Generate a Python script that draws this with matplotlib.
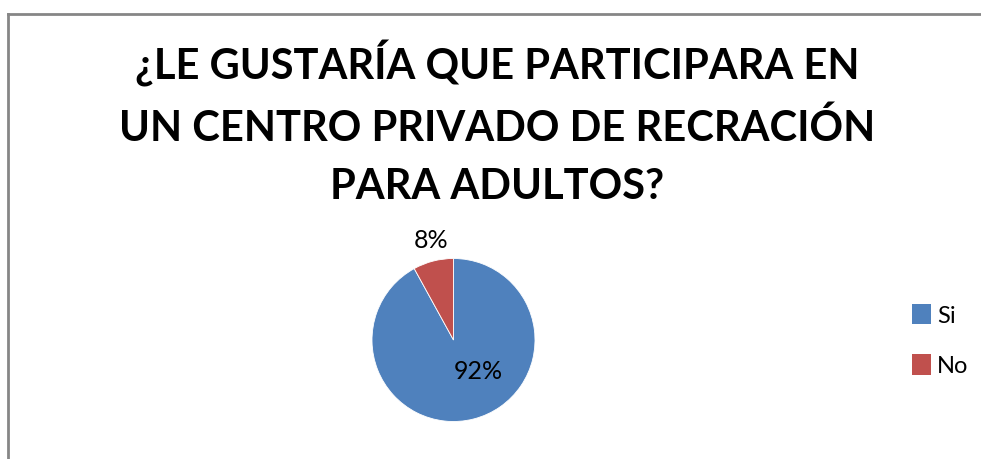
import matplotlib.pyplot as plt
from matplotlib.lines import Line2D
from matplotlib.patches import Patch

# ===============================
# DATA
# ===============================
TITLE = "¿LE GUSTARÍA QUE PARTICIPARA EN\nUN CENTRO PRIVADO DE RECRACIÓN\nPARA ADULTOS?"
labels = ["Si", "No"]
values = [92, 8]
colors = ["#4F81BD", "#C0504D"]

W, H = 981, 460
plt.rcParams["font.family"] = ["Lato", "DejaVu Sans"]

fig = plt.figure(figsize=(W / 100, H / 100), dpi=100)

# chart border (gray frame, cut off at right and bottom)
border = "#868686"
fig.add_artist(Line2D([8 / W, 1.0], [1 - 14.5 / H, 1 - 14.5 / H], color=border, lw=2))
fig.add_artist(Line2D([8 / W, 8 / W], [0.0, 1 - 14.5 / H], color=border, lw=2))

fig.text(497 / W, 1 - 123 / H, TITLE, ha="center", va="center",
         fontsize=30, fontweight="bold", linespacing=1.66)

# pie
cx, cy, r = 453.5, 341, 81.5
ax = fig.add_axes([(cx - r) / W, (H - cy - r) / H, 2 * r / W, 2 * r / H])
wedges, _ = ax.pie(values, colors=colors, startangle=90, counterclock=False,
                   wedgeprops=dict(edgecolor="white", linewidth=0.6))
ax.set_xlim(-1, 1)
ax.set_ylim(-1, 1)
ax.set_aspect("equal")
ax.axis("off")

ax.text(0.31, -0.38, f"{values[0]}%", ha="center", va="center", fontsize=18, clip_on=False)
ax.text(-0.276, 1.227, f"{values[1]}%", ha="center", va="center", fontsize=18, clip_on=False)

# legend
handles = [Patch(facecolor=c, label=l) for l, c in zip(labels, colors)]
fig.legend(handles=handles, loc="center left", bbox_to_anchor=(912 / W, 1 - 341 / H),
           frameon=False, fontsize=17, handlelength=0.8, handleheight=0.95,
           handletextpad=0.25, labelspacing=1.2, borderpad=0, borderaxespad=0)

fig.savefig("out.png", dpi=100)
